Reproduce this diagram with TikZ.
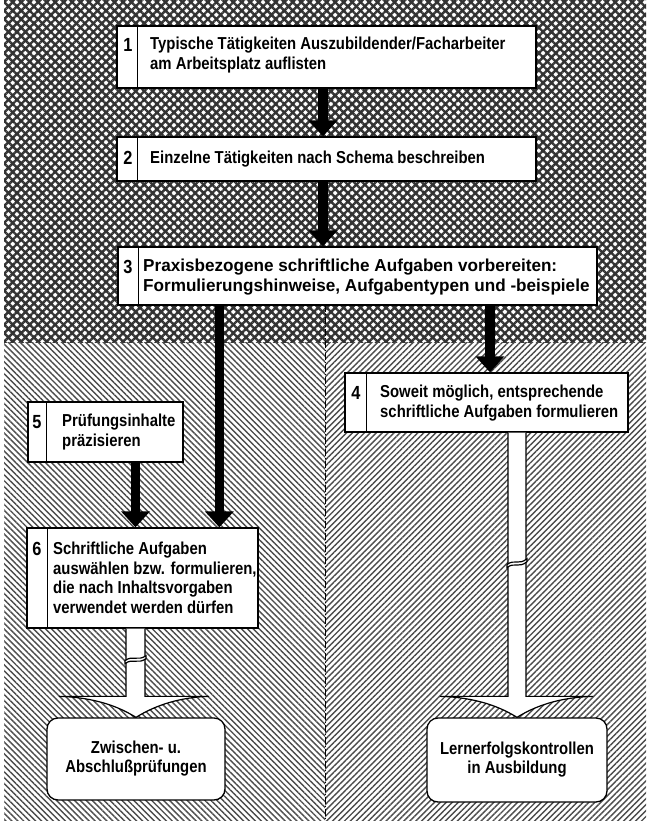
\documentclass[tikz,border=0pt]{standalone}
\usepackage{fontspec}
\setmainfont{Liberation Sans}[FakeStretch=0.86]
\newfontfamily\widefont{Liberation Sans}[FakeStretch=0.99]
\usetikzlibrary{arrows.meta,patterns.meta,calc}
\begin{document}
\begin{tikzpicture}[x=1pt,y=-1pt,
  box/.style={draw=black,line width=1.3pt,fill=white,inner sep=0pt},
  endbox/.style={draw=black,line width=1.3pt,fill=white,rounded corners=11pt,inner sep=0pt,
    align=center,font=\bfseries\fontsize{17.3}{19}\selectfont},
  sep/.style={draw=black,line width=1.3pt},
  txt/.style={font=\bfseries\fontsize{17.3}{19.5}\selectfont,align=left,anchor=west,inner sep=0pt},
  widetxt/.style={font=\widefont\bfseries\fontsize{17.3}{20.5}\selectfont,align=left,anchor=west,inner sep=0pt},
  num/.style={font=\bfseries\fontsize{19}{19}\selectfont,inner sep=0pt},
  bigarrow/.style={line width=9.5pt,-{Triangle[length=16pt,width=28pt]}},
  openarrow/.style={draw=black,line width=1.2pt,fill=white},
  divider/.style={draw=black,line width=1pt,dash pattern=on 7pt off 2pt on 1pt off 2pt}
  ]
\useasboundingbox (0,0) rectangle (646,821);
% backgrounds
\fill[white] (0,0) rectangle (646,821);
\fill[pattern={Hatch[angle=45,distance=6pt,line width=2.4pt]},pattern color=black!80] (4,0) rectangle (646,342);
\fill[pattern={Lines[angle=-45,distance=4.2pt,line width=1.4pt]},pattern color=black!70] (4,342) rectangle (325,821);
\fill[pattern={Lines[angle=45,distance=4.2pt,line width=1.4pt]},pattern color=black!70] (325,342) rectangle (646,821);

% divider
\coordinate (dtop) at (325,305);
\coordinate (dbot) at (325,821);
\draw[divider] (dtop) -- (dbot);

% box 1
\node[box,minimum width=419pt,minimum height=62pt] (b1) at (326.5,57) {};
\draw[sep] ([xshift=21pt]b1.north west) -- ([xshift=21pt]b1.south west);
\node[num] (n1) at (128,45) {1};
\node[txt] (t1) at (150,55) {Typische Tätigkeiten Auszubildender/Facharbeiter\\am Arbeitsplatz auflisten};

% box 2
\node[box,minimum width=419pt,minimum height=44pt] (b2) at (326.5,159) {};
\draw[sep] ([xshift=21pt]b2.north west) -- ([xshift=21pt]b2.south west);
\node[num] (n2) at (128,158) {2};
\node[txt] (t2) at (150,159) {Einzelne Tätigkeiten nach Schema beschreiben};

% box 3
\node[box,minimum width=479pt,minimum height=58pt] (b3) at (357.5,276) {};
\draw[sep] ([xshift=21pt]b3.north west) -- ([xshift=21pt]b3.south west);
\node[num] (n3) at (128,267) {3};
\node[widetxt] (t3) at (143,277) {Praxisbezogene schriftliche Aufgaben vorbereiten:\\Formulierungshinweise, Aufgabentypen und -beispiele};

% box 4
\node[box,minimum width=283pt,minimum height=59pt] (b4) at (486.5,402.5) {};
\draw[sep] ([xshift=22pt]b4.north west) -- ([xshift=22pt]b4.south west);
\node[num] (n4) at (356,393) {4};
\node[txt] (t4) at (380,403) {Soweit möglich, entsprechende\\schriftliche Aufgaben formulieren};

% box 5
\node[box,minimum width=155pt,minimum height=60pt] (b5) at (105.5,432) {};
\draw[sep] ([xshift=19pt]b5.north west) -- ([xshift=19pt]b5.south west);
\node[num] (n5) at (37,422) {5};
\node[txt] (t5) at (62,432) {Prüfungsinhalte\\präzisieren};

% box 6
\node[box,minimum width=231pt,minimum height=100pt] (b6) at (142.5,578) {};
\draw[sep] ([xshift=21pt]b6.north west) -- ([xshift=21pt]b6.south west);
\node[num] (n6) at (37,549) {6};
\node[txt] (t6) at (53,578) {Schriftliche Aufgaben\\auswählen bzw. formulieren,\\die nach Inhaltsvorgaben\\verwendet werden dürfen};

% end boxes
\node[endbox,minimum width=178pt,minimum height=82pt] (e1) at (136,759) {Zwischen- u.\\Abschlußprüfungen};
\node[endbox,minimum width=180pt,minimum height=84pt] (e2) at (517,760) {Lernerfolgskontrollen\\in Ausbildung};

% black arrows
\draw[bigarrow] ([xshift=-3.5pt]b1.south) -- ([xshift=-3.5pt]b2.north);
\draw[bigarrow] ([xshift=-3.5pt]b2.south) -- ([xshift=-3.5pt]b2.south |- b3.north);
\coordinate (s3a) at ([xshift=102pt]b3.south west);
\draw[bigarrow] (s3a) -- (s3a |- b6.north);
\draw[bigarrow] ([xshift=3.5pt]b4.north |- b3.south) -- ([xshift=3.5pt]b4.north);
\coordinate (s5) at ([xshift=30pt]b5.south);
\draw[bigarrow] (s5) -- (s5 |- b6.north);

% open arrow b6 -> e1
\coordinate (tipA) at (e1.north);
\coordinate (topA) at (tipA |- b6.south);
\path[openarrow] ($(topA)+(-10,0)$) -- ($(tipA)+(-10,-21)$) -- ($(tipA)+(-77,-21)$)
  .. controls ($(tipA)+(-40,-20)$) and ($(tipA)+(-16,-10)$) .. (tipA)
  .. controls ($(tipA)+(16,-10)$) and ($(tipA)+(40,-20)$) .. ($(tipA)+(73,-21)$)
  -- ($(tipA)+(9,-21)$) -- ($(topA)+(9,0)$);
\draw[line width=1.2pt,fill=white] ($(topA)+(-11,32)$) .. controls ($(topA)+(-3,26)$) and ($(topA)+(2,33)$) .. ($(topA)+(10,27)$)
  -- ($(topA)+(10,30)$) .. controls ($(topA)+(2,36)$) and ($(topA)+(-3,29)$) .. ($(topA)+(-11,35)$) -- cycle;

% open arrow b4 -> e2
\coordinate (tipB) at (e2.north);
\coordinate (topB) at (tipB |- b4.south);
\path[openarrow] ($(topB)+(-9,0)$) -- ($(tipB)+(-9,-21)$) -- ($(tipB)+(-77,-21)$)
  .. controls ($(tipB)+(-40,-20)$) and ($(tipB)+(-16,-10)$) .. (tipB)
  .. controls ($(tipB)+(16,-10)$) and ($(tipB)+(40,-20)$) .. ($(tipB)+(76,-21)$)
  -- ($(tipB)+(9,-21)$) -- ($(topB)+(9,0)$);
\draw[line width=1.2pt,fill=white] ($(topB)+(-10,132)$) .. controls ($(topB)+(-3,126)$) and ($(topB)+(2,133)$) .. ($(topB)+(10,126)$)
  -- ($(topB)+(10,129)$) .. controls ($(topB)+(2,136)$) and ($(topB)+(-3,129)$) .. ($(topB)+(-10,135)$) -- cycle;
\end{tikzpicture}
\end{document}
